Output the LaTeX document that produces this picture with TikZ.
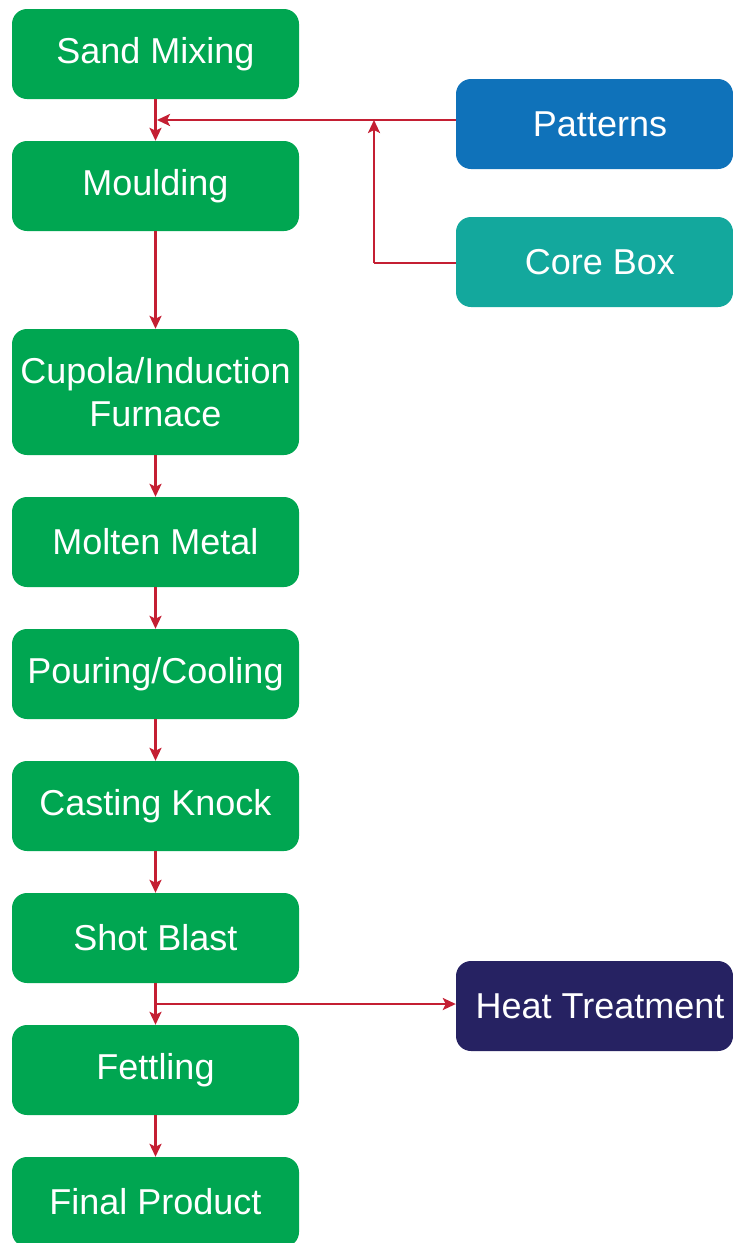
\documentclass[tikz,border=0pt]{standalone}
\usepackage{fontspec}
\setmainfont{Liberation Sans}
\usetikzlibrary{arrows.meta}
\definecolor{cgreen}{HTML}{00A651}
\definecolor{cblue}{HTML}{0F72BA}
\definecolor{cteal}{HTML}{13A89D}
\definecolor{cnavy}{HTML}{262262}
\definecolor{cred}{HTML}{C41F33}
\tikzset{
  box/.style={draw=none, rounded corners=15pt, minimum width=287pt, minimum height=90pt, inner sep=0pt, text=white, font=\fontsize{36}{43}\selectfont, align=center},
  gbox/.style={box, fill=cgreen},
  rbox/.style={box, minimum width=277pt},
  lbl/.style={text=white, font=\fontsize{36}{43}\selectfont, inner sep=0pt},
  conn/.style={draw=cred, line width=2.8pt, -{Stealth[length=13pt,width=12pt,inset=3pt]}},
  plain/.style={draw=cred, line width=2.8pt}
}
\begin{document}
\begin{tikzpicture}[x=1pt,y=-1pt]
\useasboundingbox (0,0) rectangle (733,1243);
\node[gbox] (sand) at (155.5,54) {Sand Mixing};
\node[gbox] (mould) at (155.5,186) {Moulding};
\node[gbox, minimum height=126pt] (cupola) at (155.5,392) {Cupola/Induction\\Furnace};
\node[gbox] (molten) at (155.5,542) {Molten Metal};
\node[gbox] (pour) at (155.5,674) {Pouring/Cooling};
\node[gbox] (knock) at (155.5,806) {Casting Knock};
\node[gbox] (shot) at (155.5,938) {Shot Blast};
\node[gbox] (fett) at (155.5,1070) {Fettling};
\node[gbox] (final) at (155.5,1202) {Final Product};

\node[rbox, fill=cblue] (pat) at (594.5,124) {};
\node[lbl] (patl) at ([xshift=5.5pt]pat.center) {Patterns};
\node[rbox, fill=cteal] (core) at (594.5,262) {};
\node[lbl] (corel) at ([xshift=5.5pt]core.center) {Core Box};
\node[rbox, fill=cnavy] (heat) at (594.5,1006) {};
\node[lbl] (heatl) at ([xshift=5.5pt]heat.center) {Heat Treatment};

\coordinate (j1) at (157,120);
\coordinate (j2) at (374,120);
\coordinate (j3) at (374,263);
\coordinate (j4) at (155.5,1004);

\draw[conn] (sand.south) -- (mould.north);
\draw[conn] (pat.west |- j1) -- (j1);
\draw[plain] (core.west |- j3) -- (j3);
\draw[conn] (j3) -- (j2);
\draw[conn] (mould.south) -- (cupola.north);
\draw[conn] (cupola.south) -- (molten.north);
\draw[conn] (molten.south) -- (pour.north);
\draw[conn] (pour.south) -- (knock.north);
\draw[conn] (knock.south) -- (shot.north);
\draw[conn] (shot.south) -- (fett.north);
\draw[conn] (j4) -- (heat.west |- j4);
\draw[conn] (fett.south) -- (final.north);
\end{tikzpicture}
\end{document}
